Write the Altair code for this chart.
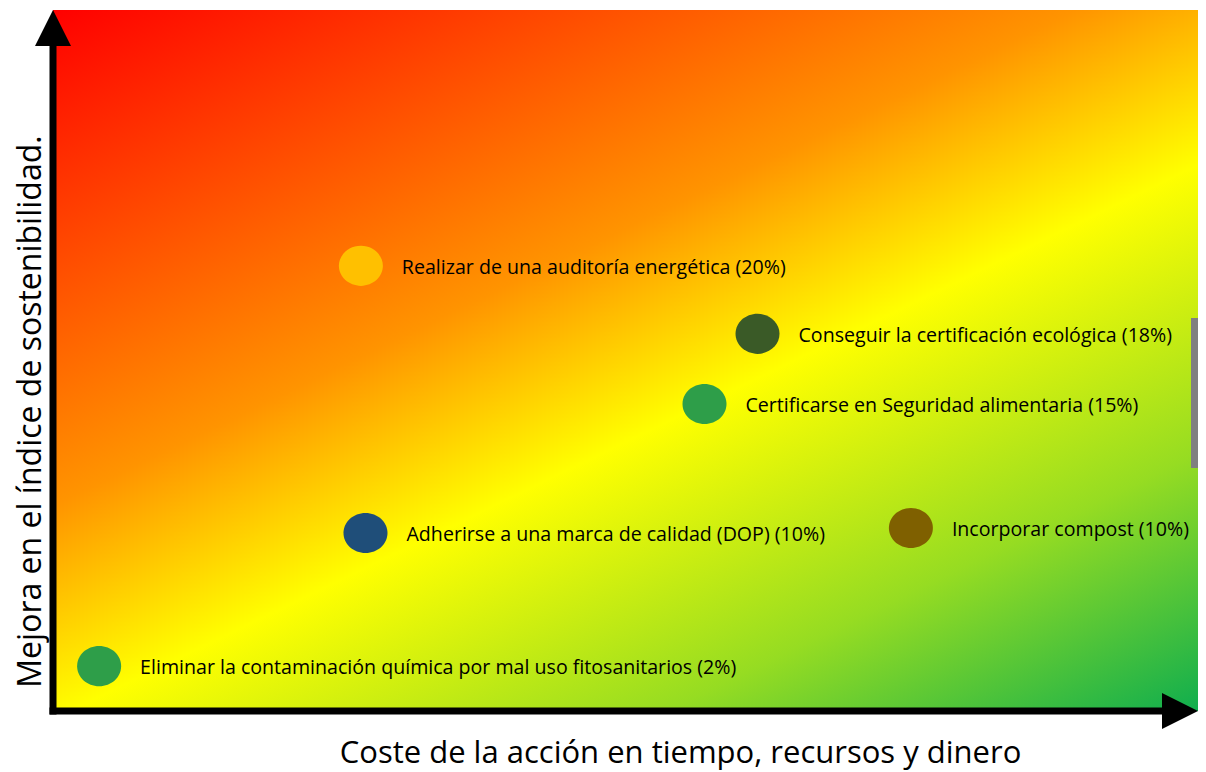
import altair as alt
import pandas as pd

# ---- data ----
acciones = [
    "Eliminar la contaminación química por mal uso fitosanitarios (2%)",
    "Realizar de una auditoría energética (20%)",
    "Adherirse a una marca de calidad (DOP) (10%)",
    "Certificarse en Seguridad alimentaria (15%)",
    "Conseguir la certificación ecológica (18%)",
    "Incorporar compost (10%)",
]
coste = [4.0, 26.7, 27.1, 56.5, 61.1, 74.4]
mejora = [6.4, 63.5, 25.4, 43.8, 53.8, 26.1]
colores = ["#2E9E49", "#FFC000", "#1F4E79", "#2E9E49", "#3A5A27", "#7F6000"]

titulo_x = "Coste de la acción en tiempo, recursos y dinero"
titulo_y = "Mejora en el índice de sostenibilidad."

W, H = 1145, 701
FONT = "Open Sans"

df = pd.DataFrame({"accion": acciones, "coste": coste, "mejora": mejora})
one = alt.Data(values=[{"k": 1}])

xs = alt.Scale(domain=[0, 99.3], nice=False, zero=False)
ys = alt.Scale(domain=[0, 100], nice=False, zero=False)

grad = alt.Gradient(
    gradient="linear",
    x1=0, y1=0, x2=0.871, y2=1.102,
    stops=[
        alt.GradientStop(color="#FF0000", offset=0.0),
        alt.GradientStop(color="#FF9400", offset=0.395),
        alt.GradientStop(color="#FFFF00", offset=0.565),
        alt.GradientStop(color="#96DC22", offset=0.795),
        alt.GradientStop(color="#10AE4E", offset=1.0),
    ],
)

bg = alt.Chart(one).mark_rect(fill=grad, strokeWidth=0).encode(
    x=alt.value(0), x2=alt.value(W), y=alt.value(0), y2=alt.value(H)
)

graybar = alt.Chart(one).mark_rect(fill="#808080").encode(
    x=alt.value(W - 7), x2=alt.value(W), y=alt.value(308), y2=alt.value(458)
)

ellipse = "M-1,0A1,0.91,0,1,1,1,0A1,0.91,0,1,1,-1,0Z"

points = alt.Chart(df).mark_point(
    shape=ellipse, filled=True, opacity=1, size=1936, strokeWidth=0
).encode(
    x=alt.X("coste:Q", scale=xs, axis=alt.Axis(
        title=titulo_x, domain=False, ticks=False, labels=False, grid=False,
        titleFont=FONT, titleFontSize=31, titleFontWeight="normal", titleColor="black",
        titleBaseline="alphabetic", titleAlign="center", titleX=627, titleY=51)),
    y=alt.Y("mejora:Q", scale=ys, axis=alt.Axis(
        title=titulo_y, domain=False, ticks=False, labels=False, grid=False,
        titleFont=FONT, titleFontSize=32, titleFontWeight="normal", titleColor="black",
        titleAngle=270, titleBaseline="alphabetic", titleAlign="center", titleX=-13, titleY=401)),
    color=alt.Color("accion:N", scale=alt.Scale(domain=acciones, range=colores), legend=None),
)

labels = alt.Chart(df).mark_text(
    align="left", baseline="middle", dx=41, dy=2, font=FONT, fontSize=19.6, color="black"
).encode(x=alt.X("coste:Q", scale=xs), y=alt.Y("mejora:Q", scale=ys), text="accion:N")

yaxis = alt.Chart(one).mark_rule(color="black", strokeWidth=7).encode(
    x=alt.value(0), y=alt.value(30), y2=alt.value(H + 3.5)
)
xaxis = alt.Chart(one).mark_rule(color="black", strokeWidth=7).encode(
    x=alt.value(-3.5), x2=alt.value(W - 15), y=alt.value(H)
)
arrow_up = alt.Chart(one).mark_point(
    shape="M0,-1L1,1L-1,1Z", filled=True, color="black", opacity=1, size=1296, strokeWidth=0
).encode(x=alt.value(0), y=alt.value(18))
arrow_right = alt.Chart(one).mark_point(
    shape="M-1,-1L1,0L-1,1Z", filled=True, color="black", opacity=1, size=1296, strokeWidth=0
).encode(x=alt.value(W - 18), y=alt.value(H))

chart = alt.layer(
    bg, graybar, points, labels, yaxis, xaxis, arrow_up, arrow_right
).properties(
    width=W, height=H,
    padding={"left": 45, "top": 2, "right": 0, "bottom": 60},
    autosize=alt.AutoSizeParams(type="none"),
    background="white",
).configure_view(stroke=None)

chart.save("out.html", embed_options={"renderer": "svg", "actions": False})
